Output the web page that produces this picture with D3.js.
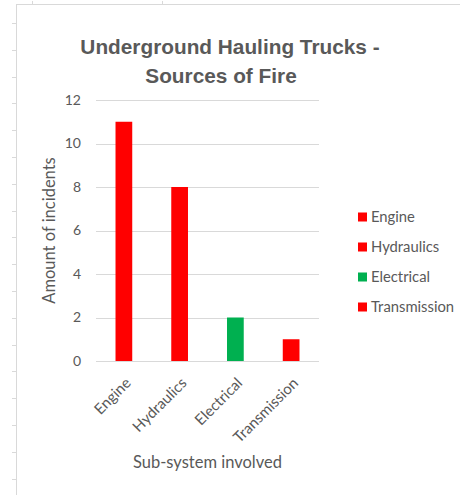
<!DOCTYPE html>
<html>
<head>
<meta charset="utf-8">
<script src="https://cdn.jsdelivr.net/npm/d3@7"></script>
<style>
  body { margin: 0; background: #fff; }
  svg { display: block; }
  text { fill: #595959; font-family: Lato, "Noto Sans", sans-serif; }
  text.title { font-family: "Liberation Sans", Arial, sans-serif; font-weight: bold; font-size: 20.8px; }
</style>
</head>
<body>
<svg></svg>
<script>
// chart data
let categories = ["Engine", "Hydraulics", "Electrical", "Transmission"];
let incidents = [11, 8, 2, 1];
let barColors = ["#ff0000", "#ff0000", "#00b050", "#ff0000"];
let yTicks = [0, 2, 4, 6, 8, 10, 12];

let width = 460;
let height = 495;
let plot = { left: 96, right: 319, top: 100, bottom: 361 };
let grey = "#d9d9d9";

let svg = d3.select("svg")
    .attr("width", width)
    .attr("height", height);

let values = categories.map((c, i) => ({ name: c, value: incidents[i], color: barColors[i] }));

// spreadsheet frame behind the chart
let frame = svg.append("g").attr("stroke", grey).attr("stroke-width", 1);
frame.append("line").attr("x1", 16.5).attr("x2", 16.5).attr("y1", 4).attr("y2", height);
frame.append("line").attr("x1", 16).attr("x2", width).attr("y1", 4.5).attr("y2", 4.5);
frame.selectAll(".row")
    .data(d3.range(0, 18))
    .enter()
    .append("line")
    .attr("x1", 12).attr("x2", 16)
    .attr("y1", (d) => Math.round(23 + d * 26.8) + 0.5)
    .attr("y2", (d) => Math.round(23 + d * 26.8) + 0.5);
frame.selectAll(".col")
    .data([32, 162])
    .enter()
    .append("line")
    .attr("x1", (d) => d + 0.5).attr("x2", (d) => d + 0.5)
    .attr("y1", 1).attr("y2", 4);

// scales
let xScale = d3.scaleBand()
    .domain(categories)
    .range([plot.left, plot.right])
    .paddingInner(0.7)
    .paddingOuter(0.35);

let yScale = d3.scaleLinear()
    .domain([0, 12])
    .range([plot.bottom, plot.top]);

// gridlines
svg.append("g")
    .selectAll("line")
    .data(yTicks)
    .enter()
    .append("line")
    .attr("x1", plot.left)
    .attr("x2", plot.right)
    .attr("y1", (d) => Math.round(yScale(d)) + 0.5)
    .attr("y2", (d) => Math.round(yScale(d)) + 0.5)
    .attr("stroke", grey);

// bars
svg.append("g")
    .selectAll("rect")
    .data(values)
    .enter()
    .append("rect")
    .attr("x", (d) => xScale(d.name))
    .attr("width", xScale.bandwidth())
    .attr("y", (d) => yScale(d.value))
    .attr("height", (d) => yScale(0) - yScale(d.value))
    .attr("fill", (d) => d.color);

// y axis
let yAxis = d3.axisLeft(yScale).tickValues(yTicks).tickSize(0).tickPadding(15);
let yG = svg.append("g")
    .attr("transform", "translate(" + plot.left + ",0)")
    .call(yAxis);
yG.select(".domain").remove();
yG.selectAll("text")
    .style("font-size", "14px")
    .style("font-family", "Lato, sans-serif")
    .attr("fill", "#595959");

// x axis
let xAxis = d3.axisBottom(xScale).tickSize(0);
let xG = svg.append("g")
    .attr("transform", "translate(0," + plot.bottom + ")")
    .call(xAxis);
xG.select(".domain")
    .attr("stroke", grey)
    .attr("d", "M" + plot.left + ",0.5H" + plot.right);
xG.selectAll("text")
    .style("font-size", "15px")
    .style("font-family", "Lato, sans-serif")
    .attr("fill", "#595959")
    .attr("text-anchor", "end")
    .attr("dy", null)
    .attr("y", 0)
    .attr("transform", "translate(8,23) rotate(-45)");

// title
svg.append("text").attr("class", "title")
    .attr("x", 230).attr("y", 54)
    .attr("text-anchor", "middle")
    .text("Underground Hauling Trucks -");
svg.append("text").attr("class", "title")
    .attr("x", 221).attr("y", 83)
    .attr("text-anchor", "middle")
    .text("Sources of Fire");

// axis titles
svg.append("text")
    .attr("transform", "translate(55," + (plot.top + plot.bottom) / 2 + ") rotate(-90)")
    .attr("text-anchor", "middle")
    .style("font-size", "16.5px")
    .text("Amount of incidents");

svg.append("text")
    .attr("x", 207.5)
    .attr("y", 468)
    .attr("text-anchor", "middle")
    .style("font-size", "16.5px")
    .text("Sub-system involved");

// legend
let legend = svg.append("g")
    .selectAll("g")
    .data(values)
    .enter()
    .append("g")
    .attr("transform", (d, i) => "translate(358," + (217 + i * 30) + ")");
legend.append("rect")
    .attr("x", 0).attr("y", -4.5)
    .attr("width", 9).attr("height", 9)
    .attr("fill", (d) => d.color);
legend.append("text")
    .attr("x", 13)
    .attr("y", 5)
    .style("font-size", "14.8px")
    .text((d) => d.name);
</script>
</body>
</html>
